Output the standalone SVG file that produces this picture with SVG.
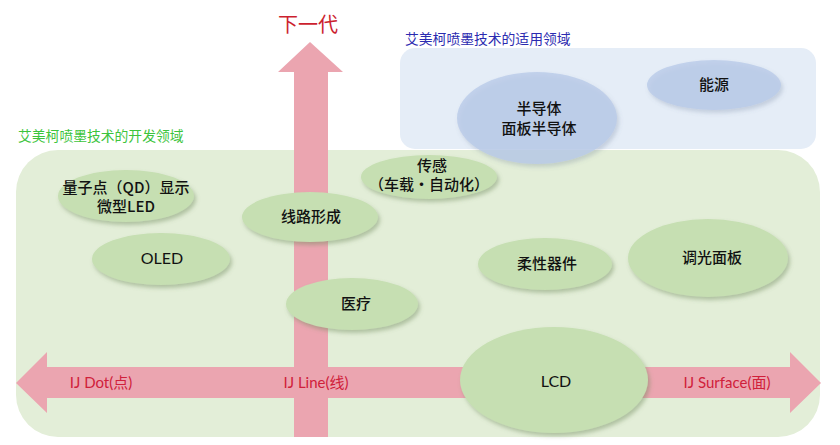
<svg xmlns="http://www.w3.org/2000/svg" width="840" height="445" viewBox="0 0 840 445">
<defs>
<filter id="sh" x="-20%" y="-20%" width="140%" height="150%">
<feDropShadow dx="2" dy="3" stdDeviation="2" flood-color="#6f8a5c" flood-opacity="0.45"/>
</filter>
<filter id="shb" x="-20%" y="-20%" width="140%" height="150%">
<feDropShadow dx="2" dy="3" stdDeviation="2" flood-color="#5a6f8f" flood-opacity="0.3"/>
</filter>
<style>
.g{fill:#c6dfb2;filter:url(#sh)}
.b{fill:#b9cbe8;fill-opacity:0.8;filter:url(#shb)}
.t{font-family:"Noto Sans CJK SC","Noto Sans",sans-serif;font-size:15px;font-weight:500;fill:#111;text-anchor:middle}
.l{font-family:"Lato","Noto Sans CJK SC",sans-serif;font-size:16px;fill:#111;text-anchor:middle}
.r{font-family:"Lato","Noto Sans CJK SC",sans-serif;font-size:15px;fill:#d0203a;text-anchor:middle}
.arr{fill:#eba5b0}
</style>
</defs>
<rect width="840" height="445" fill="#fff"/>
<g id="regions">
<rect x="16" y="150" width="804" height="287" rx="42" fill="#e3eed8"/>
<rect x="400" y="48" width="416" height="101" rx="15" fill="#e5edf7"/>
<text x="18" y="141" font-family="Noto Sans CJK SC,sans-serif" font-size="13.8" fill="#3cc43c">艾美柯喷墨技术的开发领域</text>
<text x="405" y="44" font-family="Noto Sans CJK SC,sans-serif" font-size="13.8" fill="#2b2bb0">艾美柯喷墨技术的适用领域</text>
</g>
<g id="connectors">
<polygon class="arr" points="294,437 294,72 278,72 310,42 343,72 328,72 328,437"/>
<polygon class="arr" points="16,383 47,352 47,367 790,367 790,352 821,383 790,413 790,398 47,398 47,413"/>
<text x="308" y="32" font-family="Noto Sans CJK SC,sans-serif" font-size="20" fill="#cc1f2f" text-anchor="middle">下一代</text>
</g>
<g id="n-qd"><ellipse class="g" cx="126" cy="196" rx="68" ry="26"/><text class="t" x="126" y="193">量子点（QD）显示</text><text class="t" x="126" y="212">微型LED</text></g>
<g id="n-line"><ellipse class="g" cx="310" cy="217" rx="68" ry="25"/><text class="t" x="311" y="222">线路形成</text></g>
<g id="n-sensor"><ellipse class="g" cx="429" cy="177" rx="68" ry="22"/><text class="t" x="432" y="171">传感</text><text class="t" x="429" y="190">（车载・自动化）</text></g>
<g id="n-oled"><ellipse class="g" cx="161" cy="259" rx="69" ry="26"/><text class="l" x="162" y="264">OLED</text></g>
<g id="n-med"><ellipse class="g" cx="352" cy="304" rx="66" ry="26"/><text class="t" x="356" y="309">医疗</text></g>
<g id="n-flex"><ellipse class="g" cx="545" cy="264" rx="67" ry="26"/><text class="t" x="547" y="269">柔性器件</text></g>
<g id="n-dim"><ellipse class="g" cx="708" cy="258" rx="80" ry="39"/><text class="t" x="712" y="263">调光面板</text></g>
<g id="n-lcd"><ellipse class="g" cx="554" cy="380" rx="94" ry="53"/><text class="l" x="556" y="387">LCD</text></g>
<g id="n-semi"><ellipse class="b" cx="537" cy="118" rx="80" ry="46"/><text class="t" x="539" y="114">半导体</text><text class="t" x="539" y="134">面板半导体</text></g>
<g id="n-energy"><ellipse class="b" cx="714" cy="85" rx="67" ry="25"/><text class="t" x="714" y="90">能源</text></g>
<g id="axis-labels">
<text class="r" x="101" y="388">IJ Dot(点)</text>
<text class="r" x="316" y="388">IJ Line(线)</text>
<text class="r" x="727" y="388">IJ Surface(面)</text>
</g>
</svg>
